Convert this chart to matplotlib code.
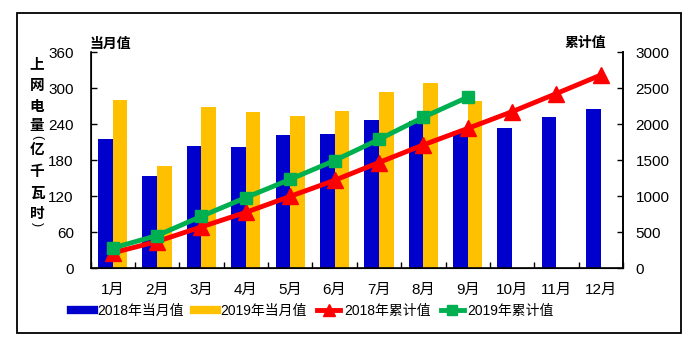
import matplotlib
matplotlib.use("Agg")
import matplotlib.pyplot as plt
import numpy as np
from matplotlib.lines import Line2D
from matplotlib.patches import Rectangle

plt.rcParams['font.family'] = ['Liberation Sans', 'Noto Sans CJK SC', 'DejaVu Sans']

months = ['1月', '2月', '3月', '4月', '5月', '6月', '7月', '8月', '9月', '10月', '11月', '12月']
monthly_2018 = [215, 153, 203, 202, 222, 223, 247, 245, 228, 233, 252, 265]
monthly_2019 = [280, 170, 268, 260, 253, 262, 293, 308, 278]
cum_2018 = [210, 368, 571, 773, 995, 1218, 1465, 1710, 1938, 2171, 2423, 2680]
cum_2019 = [278, 450, 718, 978, 1231, 1493, 1786, 2094, 2372]
left_ticks = [0, 60, 120, 180, 240, 300, 360]
right_ticks = [0, 500, 1000, 1500, 2000, 2500, 3000]
legend_labels = ['2018年当月值', '2019年当月值', '2018年累计值', '2019年累计值']

BLUE = '#0000CC'
YELLOW = '#FFC000'
RED = '#FF0000'
GREEN = '#00B050'

W, H = 699, 347
fig = plt.figure(figsize=(W / 100, H / 100), dpi=100)

# outer frame
fig.add_artist(Rectangle((16.5 / W, 1 - 332.5 / H), 664 / W, 320 / H,
                         transform=fig.transFigure, fill=False, lw=1.3, ec='black'))

ax = fig.add_axes([90.5 / W, 1 - 268 / H, (623 - 90.5) / W, (268 - 52) / H])
x = np.arange(len(months))
bw = 0.33
ax.bar(x[:len(monthly_2018)] - bw / 2, monthly_2018, width=bw, color=BLUE, zorder=2)
ax.bar(x[:len(monthly_2019)] + bw / 2, monthly_2019, width=bw, color=YELLOW, zorder=2)
ax.set_xlim(-0.5, 11.5)
ax.set_ylim(0, 360)
ax.set_yticks(left_ticks)
ax.set_xticks(x)
ax.set_xticklabels(months, fontsize=11)
ax.set_xticks(np.arange(-0.5, 12, 1), minor=True)
ax.tick_params(axis='x', which='major', length=0, pad=11)
ax.tick_params(axis='x', which='minor', direction='in', length=4, width=1)
ax.tick_params(axis='y', direction='in', length=4, width=1, labelsize=11, pad=12)
ax.spines['top'].set_visible(False)
for s in ['left', 'bottom', 'right']:
    ax.spines[s].set_linewidth(1.2)

ax2 = ax.twinx()
ax2.plot(x[:len(cum_2018)], cum_2018, color=RED, lw=3.5, marker='^', markersize=11, zorder=3)
ax2.plot(x[:len(cum_2019)], cum_2019, color=GREEN, lw=3.5, marker='s', markersize=8, zorder=4)
ax2.set_ylim(0, 3000)
ax2.set_yticks(right_ticks)
ax2.tick_params(axis='y', direction='in', length=4, width=1, labelsize=11, pad=9)
ax2.spines['top'].set_visible(False)
ax2.spines['right'].set_linewidth(1.2)

# axis titles
cjk = ['Noto Sans CJK SC', 'DejaVu Sans']
fig.text(90 / W, 1 - 44 / H, '当月值', family=cjk, fontsize=10, fontweight='bold',
         ha='left', va='center')
fig.text(606 / W, 1 - 43 / H, '累计值', family=cjk, fontsize=10, fontweight='bold',
         ha='right', va='center')

# vertical y label (characters stacked, parentheses turned)
vchars = ['上', '网', '电', '量', '(', '亿', '千', '瓦', '时', ')']
vpos = [63, 85, 106, 125, 137, 149, 171, 193, 213, 224]
for ch, yp in zip(vchars, vpos):
    if ch in '()':
        fig.text(37 / W, 1 - yp / H, ch, family=['Liberation Sans'], fontsize=9,
                 rotation=-90, ha='center', va='center')
    else:
        fig.text(37 / W, 1 - yp / H, ch, family=cjk, fontsize=10.5, fontweight='bold',
                 ha='center', va='center')

handles = [Line2D([], [], color=BLUE, lw=6),
           Line2D([], [], color=YELLOW, lw=6),
           Line2D([], [], color=RED, lw=3.5, marker='^', markersize=8),
           Line2D([], [], color=GREEN, lw=3.5, marker='s', markersize=7)]
fig.legend(handles, legend_labels, loc='center left', bbox_to_anchor=(71 / W, 1 - 311 / H),
           ncol=4, frameon=False, handlelength=1.65, handletextpad=0.25,
           columnspacing=0.75, borderaxespad=0, borderpad=0,
           prop={'family': ['Liberation Sans', 'Noto Sans CJK SC'], 'size': 10})

fig.savefig('out.png', dpi=100)
